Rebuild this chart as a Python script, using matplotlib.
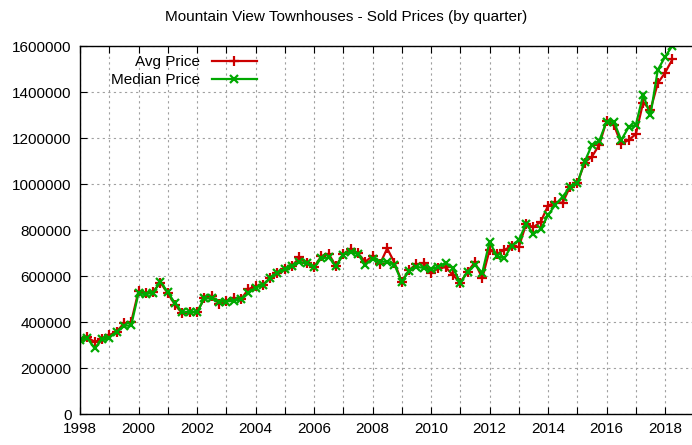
import numpy as np
import matplotlib.pyplot as plt
from matplotlib.ticker import MultipleLocator, FuncFormatter

plt.rcParams['font.family'] = ['Liberation Sans', 'DejaVu Sans']

# quarterly data, 1998 Q1 .. 2018 Q2 (values in thousands $)
start_year = 1998
avg_price = [
    321, 333, 314, 324,
    343, 358, 394, 400,
    535, 525, 532, 571,
    525, 474, 437, 444,
    442, 503, 515, 478,
    493, 503, 498, 542,
    557, 561, 590, 615,
    629, 643, 681, 655,
    638, 687, 696, 643,
    696, 716, 699, 662,
    687, 651, 720, 658,
    575, 626, 651, 655,
    612, 634, 638, 604,
    571, 619, 660, 590,
    713, 696, 713, 730,
    726, 826, 812, 836,
    906, 920, 919, 988,
    1003, 1093, 1119, 1170,
    1275, 1257, 1174, 1191,
    1217, 1354, 1322, 1438,
    1484, 1542,
]
median_price = [
    321, 330, 286, 324,
    332, 358, 384, 385,
    525, 521, 528, 575,
    530, 481, 442, 444,
    442, 503, 503, 489,
    489, 493, 498, 524,
    550, 561, 590, 615,
    629, 643, 662, 655,
    638, 677, 681, 643,
    693, 706, 695, 648,
    676, 662, 662, 648,
    575, 622, 640, 635,
    629, 640, 658, 634,
    571, 619, 649, 614,
    749, 687, 677, 730,
    757, 826, 783, 803,
    865, 910, 945, 988,
    1003, 1097, 1170, 1188,
    1271, 1271, 1191, 1246,
    1257, 1387, 1300, 1496,
    1553, 1601,
]

quarters = start_year + np.arange(len(avg_price)) * 0.25
avg = np.array(avg_price) * 1000
med = np.array(median_price) * 1000

fig = plt.figure(figsize=(6.92, 4.45), dpi=100)
ax = fig.add_axes([80 / 692, 31 / 445, 612 / 692, 368 / 445])

ax.plot(quarters, avg, color='#cc0000', lw=1.6, marker='+', ms=6.5, mew=1.6,
        label='Avg Price')
ax.plot(quarters, med, color='#00a800', lw=1.6, marker='x', ms=5.2, mew=1.6,
        label='Median Price')

ax.set_xlim(1998, 2018.92)
ax.set_ylim(0, 1600000)
ax.xaxis.set_major_locator(MultipleLocator(1))
ax.xaxis.set_major_formatter(FuncFormatter(lambda v, p: '%d' % v if int(round(v)) % 2 == 0 else ''))
ax.yaxis.set_major_locator(MultipleLocator(200000))
ax.yaxis.set_major_formatter(FuncFormatter(lambda v, p: '%d' % v))

ax.grid(True, color='#a0a0a0', linestyle=(0, (2, 3)), linewidth=0.8)
ax.tick_params(direction='in', length=5, width=0.8, labelsize=11, top=True,
               pad=6)
ax.spines['right'].set_visible(False)
for s in ['left', 'bottom', 'top']:
    ax.spines[s].set_linewidth(1.0)

fig.text(0.5, 1 - 17 / 445, 'Mountain View Townhouses - Sold Prices (by quarter)',
         fontsize=11, ha='center', va='center')

leg = ax.legend(loc='upper left', bbox_to_anchor=(0.033, 1.005), frameon=False,
                markerfirst=False, fontsize=11, handlelength=2.9,
                labelspacing=0.3, borderaxespad=0.3)
for t in leg.get_texts():
    t.set_ha('right')
leg._legend_box.align = 'right'

fig.savefig('out.png', dpi=100)
